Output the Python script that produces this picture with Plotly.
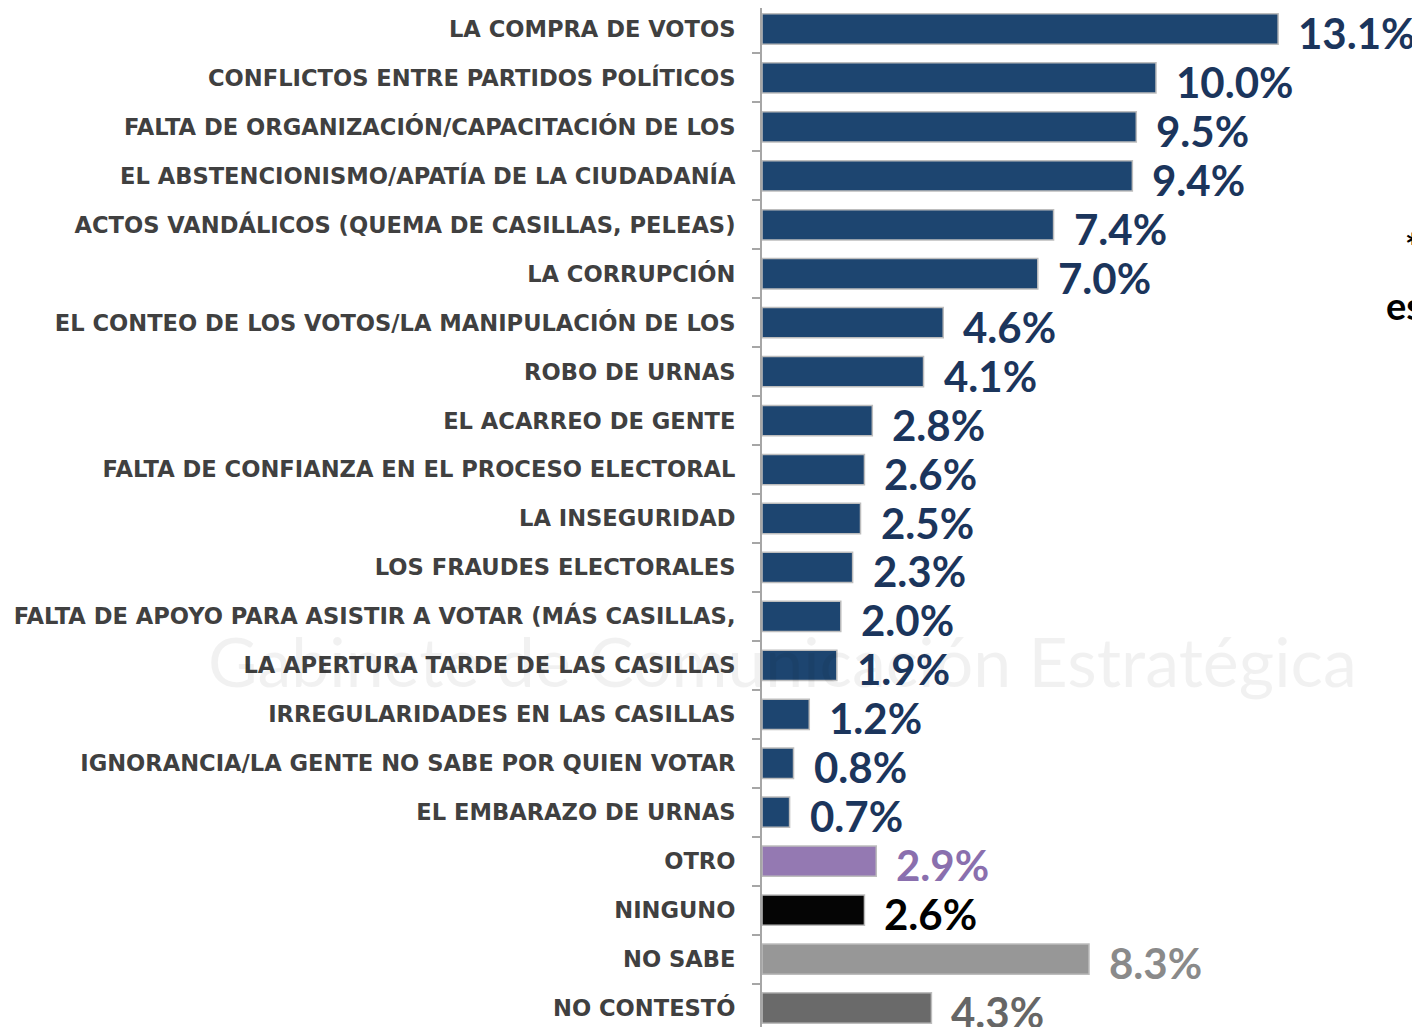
import plotly.graph_objects as go

categories = [
    "LA COMPRA DE VOTOS",
    "CONFLICTOS ENTRE PARTIDOS POLÍTICOS",
    "FALTA DE ORGANIZACIÓN/CAPACITACIÓN DE LOS",
    "EL ABSTENCIONISMO/APATÍA DE LA CIUDADANÍA",
    "ACTOS VANDÁLICOS (QUEMA DE CASILLAS, PELEAS)",
    "LA CORRUPCIÓN",
    "EL CONTEO DE LOS VOTOS/LA MANIPULACIÓN DE LOS",
    "ROBO DE URNAS",
    "EL ACARREO DE GENTE",
    "FALTA DE CONFIANZA EN EL PROCESO ELECTORAL",
    "LA INSEGURIDAD",
    "LOS FRAUDES ELECTORALES",
    "FALTA DE APOYO PARA ASISTIR A VOTAR (MÁS CASILLAS,",
    "LA APERTURA TARDE DE LAS CASILLAS",
    "IRREGULARIDADES EN LAS CASILLAS",
    "IGNORANCIA/LA GENTE NO SABE POR QUIEN VOTAR",
    "EL EMBARAZO DE URNAS",
    "OTRO",
    "NINGUNO",
    "NO SABE",
    "NO CONTESTÓ",
]
values = [13.1, 10.0, 9.5, 9.4, 7.4, 7.0, 4.6, 4.1, 2.8, 2.6, 2.5, 2.3, 2.0, 1.9, 1.2, 0.8, 0.7, 2.9, 2.6, 8.3, 4.3]

NAVY = "#1d4570"
bar_colors = [NAVY] * 17 + ["#9479b2", "#050505", "#979797", "#6a6a6a"]
label_colors = ["#1b355c"] * 17 + ["#8a6fae", "#000000", "#8a8a8a", "#666666"]

ypos = list(range(len(categories)))

# page is drawn with a small body margin; figure coords = page coords - OFF
OFF = 8
AXIS_X = 762 - OFF
PX_PER_PCT = 39.4
ROW0 = 29 - OFF
ROW_PX = 48.95
FIG_W, FIG_H = 1420, 1027

fig = go.Figure()

fig.add_trace(go.Bar(
    x=values,
    y=ypos,
    orientation="h",
    marker=dict(color=bar_colors, line=dict(color="#bdbdbd", width=1.5)),
    width=0.62,
    hoverinfo="skip",
))

# faint background watermark text
fig.add_annotation(
    x=(782 - OFF - AXIS_X) / (FIG_W - AXIS_X), y=1 - (660 - OFF) / FIG_H,
    xref="paper", yref="paper",
    text="Gabinete de Comunicación Estratégica",
    showarrow=False, xanchor="center", yanchor="middle",
    font=dict(family="Lato", size=68, color="rgba(0,0,0,0.055)"),
)

for i, (v, c) in enumerate(zip(values, label_colors)):
    fig.add_annotation(
        x=v, y=i, xref="x", yref="y", text=f"{v:.1f}%",
        xanchor="left", yanchor="middle", xshift=18, yshift=-4, showarrow=False,
        font=dict(family="Lato", size=42, color=c, weight="bold"),
    )

# texts cut off at the right edge
fig.add_annotation(
    x=1.0, y=1 - (246 - OFF) / FIG_H, xref="paper", yref="paper", text="*",
    showarrow=False, xanchor="left", yanchor="middle", xshift=(1403 - OFF) - FIG_W,
    font=dict(family="Lato", size=36, color="#000000", weight="bold"),
)
fig.add_annotation(
    x=1.0, y=1 - (305 - OFF) / FIG_H, xref="paper", yref="paper", text="es",
    showarrow=False, xanchor="left", yanchor="middle", xshift=(1384 - OFF) - FIG_W,
    font=dict(family="Lato", size=38, color="#000000", weight="bold"),
)

top = -ROW0 / ROW_PX
bottom = 20 + (FIG_H - (ROW0 + 20 * ROW_PX)) / ROW_PX

minor_ticks = [i - 0.5 for i in range(len(categories) + 1)]

fig.update_layout(
    width=FIG_W,
    height=FIG_H,
    margin=dict(l=AXIS_X, r=0, t=0, b=0),
    paper_bgcolor="white",
    plot_bgcolor="rgba(0,0,0,0)",
    showlegend=False,
    xaxis=dict(
        range=[0, (FIG_W - AXIS_X) / PX_PER_PCT],
        visible=False,
        fixedrange=True,
        automargin=False,
    ),
    yaxis=dict(
        range=[bottom, top],
        automargin=False,
        tickmode="array",
        tickvals=ypos,
        ticktext=categories,
        ticks="",
        showgrid=False,
        zeroline=False,
        showline=True,
        linecolor="#a6a6a6",
        linewidth=2,
        ticklabelstandoff=20,
        tickfont=dict(family="DejaVu Sans", size=22.6, color="#404040", weight="bold"),
        minor=dict(tickvals=minor_ticks, ticks="outside", ticklen=8, tickcolor="#a6a6a6", tickwidth=2),
        fixedrange=True,
    ),
)

fig.write_html("out.html")
